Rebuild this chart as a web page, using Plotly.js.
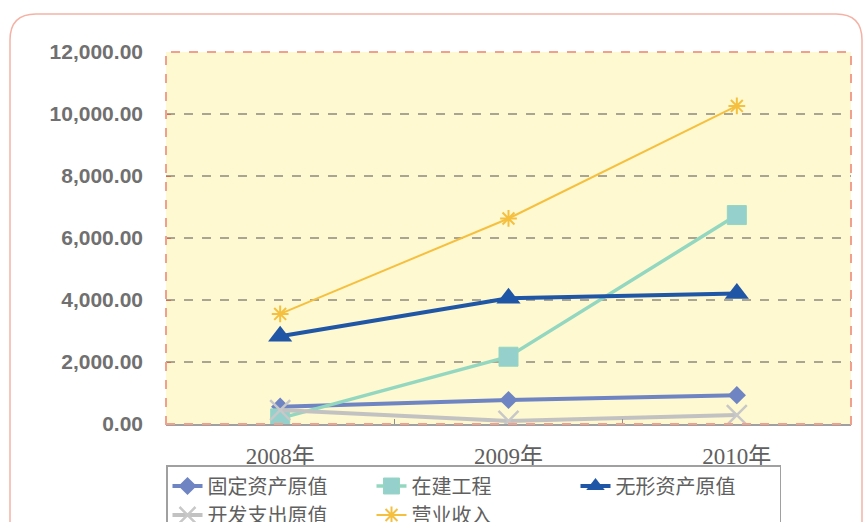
<!DOCTYPE html>
<html>
<head>
<meta charset="utf-8">
<script src="https://cdn.plot.ly/plotly-3.0.1.min.js"></script>
<style>html,body{margin:0;padding:0;background:#fff;}#chart{width:864px;height:522px;}</style>
</head>
<body>
<div id="chart"></div>
<script>
var categories = ['2008年', '2009年', '2010年'];
var seriesNames = ['固定资产原值', '在建工程', '无形资产原值', '开发支出原值', '营业收入'];
var fixedAssets = [560, 775, 930];
var construction = [180, 2170, 6740];
var intangible = [2830, 4055, 4210];
var devSpending = [450, 100, 290];
var revenue = [3550, 6630, 10260];
var yTicks = [0, 2000, 4000, 6000, 8000, 10000, 12000];

var W = 864, H = 522;
var mL = 166, mR = 13, mT = 52, mB = 98;
var pw = W - mL - mR, ph = H - mT - mB;
function px(x) { return (x - mL) / pw; }
function py(y) { return (H - mB - y) / ph; }

var x0 = px(10), x1 = px(862), yt = py(14), yb = py(540);
var rx = 26 / pw, ry = 26 / ph;
var outerPath = 'M' + x0 + ',' + yb + ' L' + x0 + ',' + (yt - ry) +
  ' Q' + x0 + ',' + yt + ' ' + (x0 + rx) + ',' + yt +
  ' L' + (x1 - rx) + ',' + yt +
  ' Q' + x1 + ',' + yt + ' ' + x1 + ',' + (yt - ry) +
  ' L' + x1 + ',' + yb;

var traces = [
  {name: seriesNames[0], x: categories, y: fixedAssets, mode: 'lines+markers',
   line: {color: '#6f84c2', width: 4}, marker: {symbol: 'diamond', size: 14, color: '#6f84c2'}},
  {name: seriesNames[1], x: categories, y: construction, mode: 'lines+markers',
   line: {color: '#93d7c1', width: 3.5}, marker: {symbol: 'square', size: 19, color: '#95d0cc', line: {color: '#93d7c1', width: 1}}},
  {name: seriesNames[2], x: categories, y: intangible, mode: 'lines+markers',
   line: {color: '#1f56a5', width: 4}, marker: {symbol: 'triangle-up', size: 21, color: '#1f56a5'}},
  {name: seriesNames[3], x: categories, y: devSpending, mode: 'lines+markers',
   line: {color: '#c2c2c2', width: 4}, marker: {symbol: 'x-thin-open', size: 20, line: {color: '#c8c8c8', width: 2.5}, color: '#c8c8c8'}},
  {name: seriesNames[4], x: categories, y: revenue, mode: 'lines+markers',
   line: {color: '#f5c040', width: 2}, marker: {symbol: 'asterisk-open', size: 14, line: {color: '#f5c040', width: 2}, color: '#f5c040'}}
];

var layout = {
  width: W, height: H,
  margin: {l: mL, r: mR, t: mT, b: mB, pad: 0, autoexpand: false},
  paper_bgcolor: '#ffffff',
  plot_bgcolor: '#fef9d0',
  showlegend: true,
  xaxis: {
    type: 'category', range: [-0.5, 2.5],
    showgrid: false, zeroline: false,
    showline: true, linecolor: '#a0a0a0', linewidth: 1.5,
    ticks: 'inside', tickson: 'boundaries', ticklen: 5, tickcolor: '#909090',
    tickfont: {family: '"Liberation Serif", "Noto Sans CJK SC", serif', size: 23, color: '#606060'},
    ticklabelstandoff: 11
  },
  yaxis: {
    range: [0, 12000], tickvals: yTicks, tickformat: ',.2f',
    showgrid: true, gridcolor: '#a9a592', gridwidth: 1.5, griddash: 'dash',
    zeroline: false, showline: false,
    ticks: 'inside', ticklen: 5, tickcolor: '#d46a58',
    tickfont: {family: '"Liberation Sans", Arial, sans-serif', size: 21, color: '#707070', weight: 'bold'},
    ticklabelstandoff: 22
  },
  legend: {
    orientation: 'h', x: 0, xanchor: 'left', y: py(465), yanchor: 'top',
    bgcolor: '#ffffff', bordercolor: '#a0a0a0', borderwidth: 1.5,
    font: {family: '"Liberation Serif", "Noto Sans CJK SC", serif', size: 20, color: '#606060'},
    entrywidth: 159, entrywidthmode: 'pixels', traceorder: 'normal', itemwidth: 30
  },
  shapes: [
    {type: 'rect', xref: 'paper', yref: 'paper', x0: 0, x1: 1, y0: 0, y1: 1,
     line: {color: '#f0a08c', width: 2, dash: 'dash'}, layer: 'above'},
    {type: 'path', xref: 'paper', yref: 'paper', path: outerPath,
     line: {color: '#f4b2a6', width: 1.5}, layer: 'below'}
  ]
};

Plotly.newPlot('chart', traces, layout, {displayModeBar: false, staticPlot: true});
</script>
</body>
</html>
